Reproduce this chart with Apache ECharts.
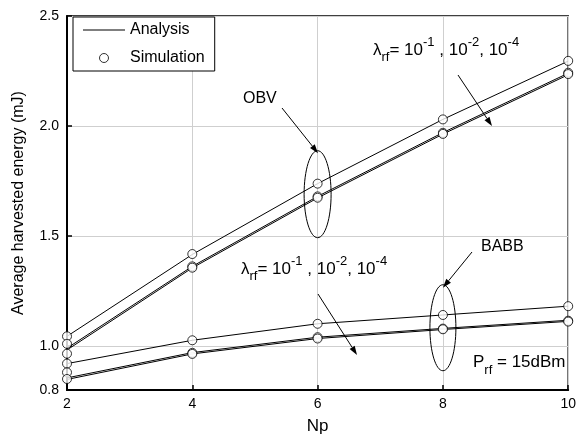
<!DOCTYPE html>
<html>
<head>
<meta charset="utf-8">
<script src="https://cdn.jsdelivr.net/npm/echarts@6/dist/echarts.min.js"></script>
<style>
  html, body { margin: 0; padding: 0; background: #fff; }
  #chart { width: 579px; height: 440px; }
</style>
</head>
<body>
<div id="chart"></div>
<script>
// Np values on the x axis
const np = [2, 4, 6, 8, 10]

// OBV curves (lambda_rf = 1e-1, 1e-2, 1e-4)
const obvA = [1.044, 1.416, 1.738, 2.030, 2.295]
const obvB = [0.990, 1.362, 1.680, 1.970, 2.240]
const obvC = [0.982, 1.355, 1.673, 1.963, 2.233]

// BABB curves (lambda_rf = 1e-1, 1e-2, 1e-4)
const babbA = [0.920, 1.026, 1.101, 1.141, 1.181]
const babbB = [0.855, 0.970, 1.040, 1.080, 1.117]
const babbC = [0.848, 0.964, 1.034, 1.075, 1.112]

// simulation points
const simObvA = [1.044, 1.418, 1.738, 2.030, 2.296]
const simObvB = [1.010, 1.362, 1.680, 1.969, 2.242]
const simObvC = [0.965, 1.356, 1.674, 1.964, 2.236]
const simBabbA = [0.920, 1.026, 1.101, 1.141, 1.181]
const simBabbB = [0.880, 0.969, 1.040, 1.079, 1.115]
const simBabbC = [0.850, 0.964, 1.034, 1.076, 1.111]

const yTicks = [0.8, 1.0, 1.5, 2.0, 2.5]

const FONT = 'Liberation Sans, Arial, sans-serif'

const pairs = (ys) => np.map((x, i) => [x, ys[i]])

const analysis = [obvA, obvB, obvC, babbA, babbB, babbC].map((d) => ({
  name: 'Analysis',
  type: 'line',
  data: pairs(d),
  symbol: 'none',
  lineStyle: { color: '#000', width: 1 },
  itemStyle: { color: '#000' },
  z: 3
}))

const simulation = [simObvA, simObvB, simObvC, simBabbA, simBabbB, simBabbC].map((d) => ({
  name: 'Simulation',
  type: 'scatter',
  data: pairs(d),
  symbol: 'circle',
  symbolSize: 9,
  clip: false,
  itemStyle: { color: '#fff', borderColor: '#000', borderWidth: 1 },
  z: 4
}))

const myChart = echarts.init(document.getElementById('chart'))

myChart.setOption({
  animation: false,
  textStyle: { fontFamily: FONT },
  grid: {
    left: 67,
    right: 7,
    top: 16,
    bottom: 50,
    show: true,
    borderColor: '#000',
    borderWidth: 1.5
  },
  legend: {
    data: [
      {
        name: 'Analysis',
        icon: 'path://M0,0L42,0L42,1.2L0,1.2Z',
        itemStyle: { color: '#000', borderWidth: 0 }
      },
      {
        name: 'Simulation',
        icon: 'circle',
        itemStyle: { color: '#fff', borderColor: '#000', borderWidth: 1 }
      }
    ],
    orient: 'vertical',
    left: 73,
    top: 17,
    itemWidth: 42,
    itemHeight: 9,
    itemGap: 12,
    symbolKeepAspect: true,
    padding: [5, 10, 5, 10],
    borderColor: '#000',
    borderWidth: 1,
    backgroundColor: '#fff',
    textStyle: { fontSize: 16, color: '#000', fontFamily: FONT }
  },
  xAxis: {
    type: 'value',
    min: 2,
    max: 10,
    interval: 2,
    name: 'Np',
    nameLocation: 'middle',
    nameGap: 28,
    nameTextStyle: { fontSize: 17, color: '#000', fontFamily: FONT },
    axisLine: { lineStyle: { color: '#000', width: 2 } },
    axisTick: { inside: true, length: 5, lineStyle: { color: '#000', width: 1.5 } },
    axisLabel: { fontSize: 14, color: '#000', margin: 7, fontFamily: FONT },
    splitLine: { show: true, lineStyle: { color: '#cfcfcf', width: 1 } }
  },
  yAxis: {
    type: 'value',
    min: 0.8,
    max: 2.5,
    name: 'Average harvested energy (mJ)',
    nameLocation: 'middle',
    nameGap: 40,
    nameTextStyle: { fontSize: 16, color: '#000', fontFamily: FONT },
    axisLine: { lineStyle: { color: '#000', width: 2 } },
    axisTick: { inside: true, length: 5, customValues: yTicks, lineStyle: { color: '#000', width: 1.5 } },
    axisLabel: {
      fontSize: 14,
      color: '#000',
      margin: 8,
      fontFamily: FONT,
      customValues: yTicks,
      formatter: (v) => v.toFixed(1)
    },
    splitLine: { show: true, lineStyle: { color: '#cfcfcf', width: 1 } }
  },
  series: [...analysis, ...simulation]
})

// annotations (ellipses, arrows, labels)
const arrow = (x1, y1, x2, y2) => {
  const ang = Math.atan2(y2 - y1, x2 - x1)
  const len = 9
  const w = 3
  const bx = x2 - len * Math.cos(ang)
  const by = y2 - len * Math.sin(ang)
  return [
    {
      type: 'line',
      shape: { x1, y1, x2: bx, y2: by },
      style: { stroke: '#000', lineWidth: 1 },
      z: 10
    },
    {
      type: 'polygon',
      shape: {
        points: [
          [x2, y2],
          [bx + w * Math.sin(ang), by - w * Math.cos(ang)],
          [bx - w * Math.sin(ang), by + w * Math.cos(ang)]
        ]
      },
      style: { fill: '#000' },
      z: 10
    }
  ]
}

const rich = {
  n: { fontSize: 17, fontFamily: FONT, fill: '#000', lineHeight: 28 },
  sup: { fontSize: 13, fontFamily: FONT, fill: '#000', verticalAlign: 'top', lineHeight: 28 },
  sub: { fontSize: 13, fontFamily: FONT, fill: '#000', verticalAlign: 'bottom', lineHeight: 28 }
}
const lambdaText = '{n|λ}{sub|rf}{n|= 10}{sup|-1}{n| , 10}{sup|-2}{n|, 10}{sup|-4}'

const obvCenter = myChart.convertToPixel({ gridIndex: 0 }, [6, 1.69])
const babbCenter = myChart.convertToPixel({ gridIndex: 0 }, [8, 1.083])

myChart.setOption({
  graphic: [
    {
      type: 'ellipse',
      shape: { cx: obvCenter[0], cy: obvCenter[1], rx: 13.5, ry: 43.5 },
      style: { fill: 'none', stroke: '#000', lineWidth: 1 },
      z: 10
    },
    {
      type: 'ellipse',
      shape: { cx: babbCenter[0], cy: babbCenter[1], rx: 13, ry: 43 },
      style: { fill: 'none', stroke: '#000', lineWidth: 1 },
      z: 10
    },
    {
      type: 'text',
      left: 243,
      top: 91,
      style: { text: 'OBV', fontSize: 16, fontFamily: FONT, fill: '#000' },
      z: 10
    },
    ...arrow(282, 108, 318, obvCenter[1] - 41),
    {
      type: 'text',
      left: 481,
      top: 239,
      style: { text: 'BABB', fontSize: 16, fontFamily: FONT, fill: '#000' },
      z: 10
    },
    ...arrow(472, 252, babbCenter[0], babbCenter[1] - 40),
    {
      type: 'text',
      left: 373,
      top: 36,
      style: { text: lambdaText, rich },
      z: 10
    },
    ...arrow(458, 75, 492, 126),
    {
      type: 'text',
      left: 241,
      top: 255,
      style: { text: lambdaText, rich },
      z: 10
    },
    ...arrow(318, 294, 357, 355),
    {
      type: 'text',
      left: 473,
      top: 354,
      style: {
        text: '{n|P}{sub|rf}{n| = 15dBm}',
        rich
      },
      z: 10
    }
  ]
})
</script>
</body>
</html>
